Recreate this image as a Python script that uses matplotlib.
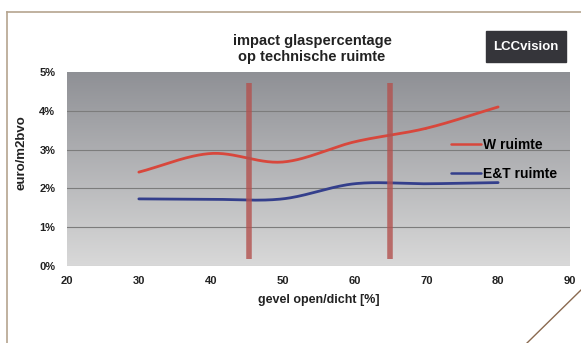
import matplotlib.pyplot as plt
import numpy as np
from matplotlib.lines import Line2D
from matplotlib.patches import Rectangle

plt.rcParams['font.family'] = ['Liberation Sans', 'DejaVu Sans']
plt.rcParams['font.weight'] = 'bold'

# gevel open/dicht [%]
x = np.array([30, 40, 50, 60, 70, 80])
w_ruimte = np.array([2.42, 2.9, 2.68, 3.2, 3.55, 4.1])
et_ruimte = np.array([1.73, 1.72, 1.73, 2.12, 2.12, 2.15])

# marker bars
bar_x = [45.4, 65]
bar_lo, bar_hi = 0.18, 4.72

xticks = [20, 30, 40, 50, 60, 70, 80, 90]
yticks = [0, 1, 2, 3, 4, 5]


def smooth(xs, ys, n=30):
    # catmull-rom through the points, like a spreadsheet "smoothed line"
    px = np.concatenate([[2 * xs[0] - xs[1]], xs, [2 * xs[-1] - xs[-2]]])
    py = np.concatenate([[2 * ys[0] - ys[1]], ys, [2 * ys[-1] - ys[-2]]])
    ox, oy = [], []
    t = np.linspace(0, 1, n)
    for i in range(1, len(px) - 2):
        for p, out in ((px, ox), (py, oy)):
            p0, p1, p2, p3 = p[i - 1], p[i], p[i + 1], p[i + 2]
            out.extend(0.5 * (2 * p1 + (-p0 + p2) * t
                              + (2 * p0 - 5 * p1 + 4 * p2 - p3) * t ** 2
                              + (-p0 + 3 * p1 - 3 * p2 + p3) * t ** 3))
    return np.array(ox), np.array(oy)


fig = plt.figure(figsize=(5.81, 3.43), dpi=100)
fig.patch.set_facecolor('white')
ax = fig.add_axes([0.1153, 0.2245, 0.8657, 0.5655])

# grey gradient background, dark at the top
grad = np.linspace(0, 1, 256).reshape(-1, 1)
top = np.array([0.56, 0.565, 0.585])
bot = np.array([0.85, 0.85, 0.85])
img = top + (bot - top) * grad[..., None]
ax.imshow(img, extent=[20, 90, 0, 5], origin='upper', aspect='auto',
          zorder=0)
ax.set_xlim(20, 90)
ax.set_ylim(0, 5)

for v in yticks[1:5]:
    ax.axhline(v, color='#7c7c7c', lw=0.8, zorder=1)
ax.axhline(0, color='#bdbdbd', lw=0.8, zorder=1)

sx, sy = smooth(x, w_ruimte)
ax.plot(sx, sy, color='#d8473c', lw=2.0, zorder=3, label='W ruimte',
        solid_capstyle='round')
sx, sy = smooth(x, et_ruimte)
ax.plot(sx, sy, color='#343f8c', lw=2.0, zorder=3, label='E&T ruimte',
        solid_capstyle='round')

for bx in bar_x:
    ax.plot([bx, bx], [bar_lo, bar_hi], color='#b3524f', lw=4.0,
            alpha=0.8, zorder=4, solid_capstyle='butt')

for s in ax.spines.values():
    s.set_visible(False)
ax.set_xticks(xticks)
ax.set_yticks(yticks)
ax.set_yticklabels(['%d%%' % v for v in yticks])
ax.tick_params(axis='both', length=0, labelsize=8, colors='#222222')
ax.tick_params(axis='y', pad=8.5)
ax.tick_params(axis='x', pad=7)

ax.set_xlabel('gevel open/dicht [%]', fontsize=9, fontweight='bold',
              color='#222222', labelpad=6)
fig.text(22 / 581, 1 - 153 / 343, 'euro/m2bvo', rotation=90, fontsize=9.5,
         fontweight='bold', color='#222222', ha='center', va='center')

leg = ax.legend(loc='upper left', bbox_to_anchor=(0.752, 0.69),
                frameon=False, fontsize=10, handlelength=2.2,
                handletextpad=0.1, labelspacing=1.1, borderaxespad=0)
for h in leg.get_lines():
    h.set_linewidth(1.8)

fig.text(312 / 581, 1 - 49 / 343, 'impact glaspercentage\nop technische ruimte',
         ha='center', va='center', fontsize=10.5, fontweight='bold',
         color='#222222', linespacing=1.2)

# logo box
fig.patches.append(Rectangle((486 / 581, 1 - 62 / 343), 80 / 581, 31 / 343,
                             transform=fig.transFigure, color='#35353a',
                             zorder=5))
fig.text(526 / 581, 1 - 46.5 / 343, 'LCCvision', ha='center', va='center',
         fontsize=9.5, fontweight='bold', color='white', zorder=6)

# page frame with turned corner
frame = '#b5a48f'
fig.lines.append(Line2D([7 / 581, 1], [1 - 12 / 343, 1 - 12 / 343],
                        transform=fig.transFigure, color=frame, lw=1.2))
fig.lines.append(Line2D([7 / 581, 7 / 581], [0, 1 - 12 / 343],
                        transform=fig.transFigure, color=frame, lw=1.2))
fig.lines.append(Line2D([527 / 581, 1], [0, 53 / 343],
                        transform=fig.transFigure, color='#8a6a50', lw=1.0))

fig.savefig('out.png', dpi=100)
